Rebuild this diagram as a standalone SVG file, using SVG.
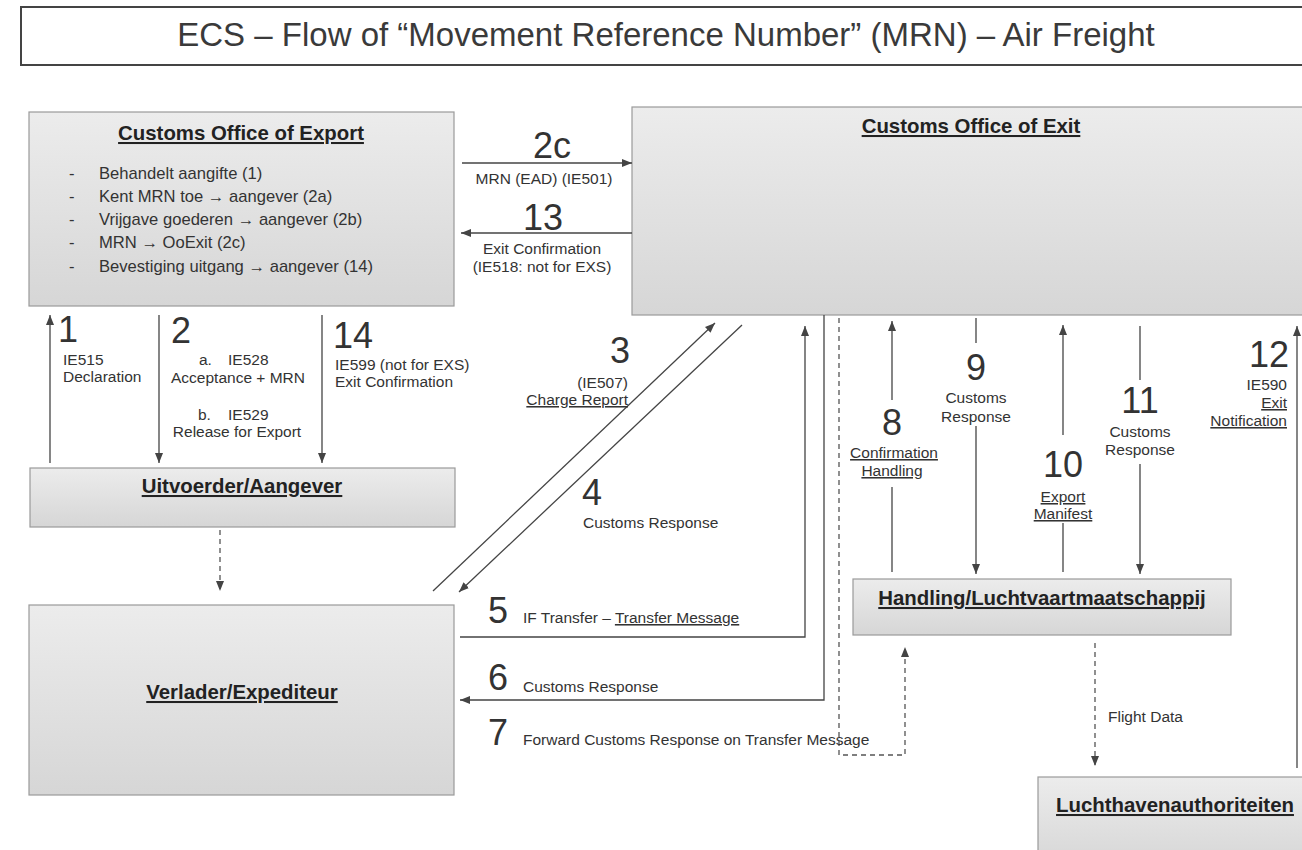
<svg xmlns="http://www.w3.org/2000/svg" width="1302" height="850" viewBox="0 0 1302 850">
<style>
  text { font-family: "Liberation Sans", Arial, sans-serif; fill: #333; }
  .title { font-size: 33px; fill: #3a3a3a; }
  .node { stroke: #9a9a9a; stroke-width: 1.2; }
  .ntitle { font-size: 20.4px; font-weight: bold; fill: #222; text-decoration: underline; }
  .bul { font-size: 16.6px; }
  .num { font-size: 36px; fill: #333; }
  .lab { font-size: 15.5px; }
  .u { text-decoration: underline; }
  .c { stroke: #444; stroke-width: 1.3; fill: none; }
  .d { stroke: #555; stroke-width: 1.3; fill: none; stroke-dasharray: 5 4; }
  .ah { marker-end: url(#arr); }
</style>
<defs>
  <linearGradient id="g" x1="0" y1="0" x2="0" y2="1">
    <stop offset="0" stop-color="#ececec"/>
    <stop offset="1" stop-color="#d6d6d6"/>
  </linearGradient>
  <marker id="arr" markerUnits="userSpaceOnUse" markerWidth="10" markerHeight="8" refX="10" refY="4" orient="auto">
    <path d="M0,0 L10,4 L0,8 z" fill="#444"/>
  </marker>
</defs>
<rect width="1302" height="850" fill="#ffffff"/>

<g id="title">
  <rect x="21" y="7" width="1300" height="58" fill="#fff" stroke="#444" stroke-width="2"/>
  <text class="title" x="666" y="46" text-anchor="middle">ECS – Flow of “Movement Reference Number” (MRN) – Air Freight</text>
</g>

<g id="customs-office-of-export">
  <rect class="node" x="29" y="112" width="425" height="194" fill="url(#g)"/>
  <text class="ntitle" x="241" y="140" text-anchor="middle">Customs Office of Export</text>
  <text class="bul" x="69" y="179">-</text><text class="bul" x="99" y="179">Behandelt aangifte (1)</text>
  <text class="bul" x="69" y="202">-</text><text class="bul" x="99" y="202">Kent MRN toe → aangever (2a)</text>
  <text class="bul" x="69" y="225">-</text><text class="bul" x="99" y="225">Vrijgave goederen → aangever (2b)</text>
  <text class="bul" x="69" y="248">-</text><text class="bul" x="99" y="248">MRN → OoExit (2c)</text>
  <text class="bul" x="69" y="272">-</text><text class="bul" x="99" y="272">Bevestiging uitgang → aangever (14)</text>
</g>

<g id="customs-office-of-exit">
  <rect class="node" x="632" y="107" width="690" height="208" fill="url(#g)"/>
  <text class="ntitle" x="971" y="133" text-anchor="middle">Customs Office of Exit</text>
</g>

<g id="uitvoerder-aangever">
  <rect class="node" x="30" y="468" width="425" height="59" fill="url(#g)"/>
  <text class="ntitle" x="242" y="493" text-anchor="middle">Uitvoerder/Aangever</text>
</g>

<g id="verlader-expediteur">
  <rect class="node" x="29" y="605" width="425" height="190" fill="url(#g)"/>
  <text class="ntitle" x="242" y="699" text-anchor="middle">Verlader/Expediteur</text>
</g>

<g id="handling-luchtvaartmaatschappij">
  <rect class="node" x="853" y="579" width="378" height="56" fill="url(#g)"/>
  <text class="ntitle" x="1042" y="605" text-anchor="middle">Handling/Luchtvaartmaatschappij</text>
</g>

<g id="luchthavenauthoriteiten">
  <rect class="node" x="1038" y="777" width="290" height="90" fill="url(#g)"/>
  <text class="ntitle" x="1175" y="812" text-anchor="middle">Luchthavenauthoriteiten</text>
</g>

<g id="connectors">
  <line class="c ah" x1="462" y1="163" x2="632" y2="163"/>
  <line class="c ah" x1="632" y1="233" x2="461" y2="233"/>
  <line class="c ah" x1="50" y1="463" x2="50" y2="315"/>
  <line class="c ah" x1="159" y1="315" x2="159" y2="463"/>
  <line class="c ah" x1="322" y1="315" x2="322" y2="463"/>
  <line class="d ah" x1="220" y1="530" x2="220" y2="591"/>
  <line class="c ah" x1="433" y1="591" x2="715" y2="323"/>
  <line class="c ah" x1="742" y1="325" x2="459" y2="592"/>
  <polyline class="c ah" points="460,637 805,637 805,326"/>
  <polyline class="c ah" points="824,315 824,700 460,700"/>
  <polyline class="d ah" points="839,318 839,755 905,755 905,647"/>
  <line class="c" x1="892" y1="572" x2="892" y2="487"/>
  <line class="c ah" x1="892" y1="400" x2="892" y2="321"/>
  <line class="c" x1="976" y1="318" x2="976" y2="343"/>
  <line class="c ah" x1="976" y1="426" x2="976" y2="574"/>
  <line class="c" x1="1063" y1="572" x2="1063" y2="523"/>
  <line class="c ah" x1="1063" y1="435" x2="1063" y2="325"/>
  <line class="c" x1="1140" y1="326" x2="1140" y2="380"/>
  <line class="c ah" x1="1140" y1="464" x2="1140" y2="574"/>
  <line class="c ah" x1="1297" y1="768" x2="1297" y2="326"/>
  <line class="d ah" x1="1095" y1="643" x2="1095" y2="766"/>
</g>

<g id="labels">
  <text class="num" x="552" y="158" text-anchor="middle">2c</text>
  <text class="lab" x="544" y="184" text-anchor="middle">MRN (EAD) (IE501)</text>
  <text class="num" x="543" y="230" text-anchor="middle">13</text>
  <text class="lab" x="542" y="254" text-anchor="middle">Exit Confirmation</text>
  <text class="lab" x="542" y="272" text-anchor="middle">(IE518: not for EXS)</text>

  <text class="num" x="58" y="342">1</text>
  <text class="lab" x="63" y="365">IE515</text>
  <text class="lab" x="63" y="382">Declaration</text>

  <text class="num" x="171" y="343">2</text>
  <text class="lab" y="365"><tspan x="199">a.</tspan><tspan x="228">IE528</tspan></text>
  <text class="lab" x="238" y="383" text-anchor="middle">Acceptance + MRN</text>
  <text class="lab" y="420"><tspan x="198">b.</tspan><tspan x="228">IE529</tspan></text>
  <text class="lab" x="237" y="437" text-anchor="middle">Release for Export</text>

  <text class="num" x="333" y="348">14</text>
  <text class="lab" x="335" y="370">IE599 (not for EXS)</text>
  <text class="lab" x="335" y="387">Exit Confirmation</text>

  <text class="num" x="630" y="363" text-anchor="end">3</text>
  <text class="lab" x="628" y="388" text-anchor="end">(IE507)</text>
  <text class="lab u" x="628" y="405" text-anchor="end">Charge Report</text>

  <text class="num" x="582" y="505">4</text>
  <text class="lab" x="583" y="528">Customs Response</text>

  <text class="num" x="488" y="623">5</text>
  <text class="lab" x="523" y="623">IF Transfer – <tspan class="u">Transfer Message</tspan></text>

  <text class="num" x="488" y="690">6</text>
  <text class="lab" x="523" y="692">Customs Response</text>

  <text class="num" x="488" y="745">7</text>
  <text class="lab" x="523" y="745">Forward Customs Response on Transfer Message</text>

  <text class="num" x="892" y="435" text-anchor="middle">8</text>
  <text class="lab u" x="894" y="458" text-anchor="middle">Confirmation</text>
  <text class="lab u" x="892" y="476" text-anchor="middle">Handling</text>

  <text class="num" x="976" y="380" text-anchor="middle">9</text>
  <text class="lab" x="976" y="403" text-anchor="middle">Customs</text>
  <text class="lab" x="976" y="422" text-anchor="middle">Response</text>

  <text class="num" x="1063" y="477" text-anchor="middle">10</text>
  <text class="lab u" x="1063" y="502" text-anchor="middle">Export</text>
  <text class="lab u" x="1063" y="519" text-anchor="middle">Manifest</text>

  <text class="num" x="1140" y="413" text-anchor="middle">11</text>
  <text class="lab" x="1140" y="437" text-anchor="middle">Customs</text>
  <text class="lab" x="1140" y="455" text-anchor="middle">Response</text>

  <text class="num" x="1289" y="367" text-anchor="end">12</text>
  <text class="lab" x="1287" y="390" text-anchor="end">IE590</text>
  <text class="lab u" x="1287" y="408" text-anchor="end">Exit</text>
  <text class="lab u" x="1287" y="426" text-anchor="end">Notification</text>

  <text class="lab" x="1108" y="722">Flight Data</text>
</g>
</svg>
